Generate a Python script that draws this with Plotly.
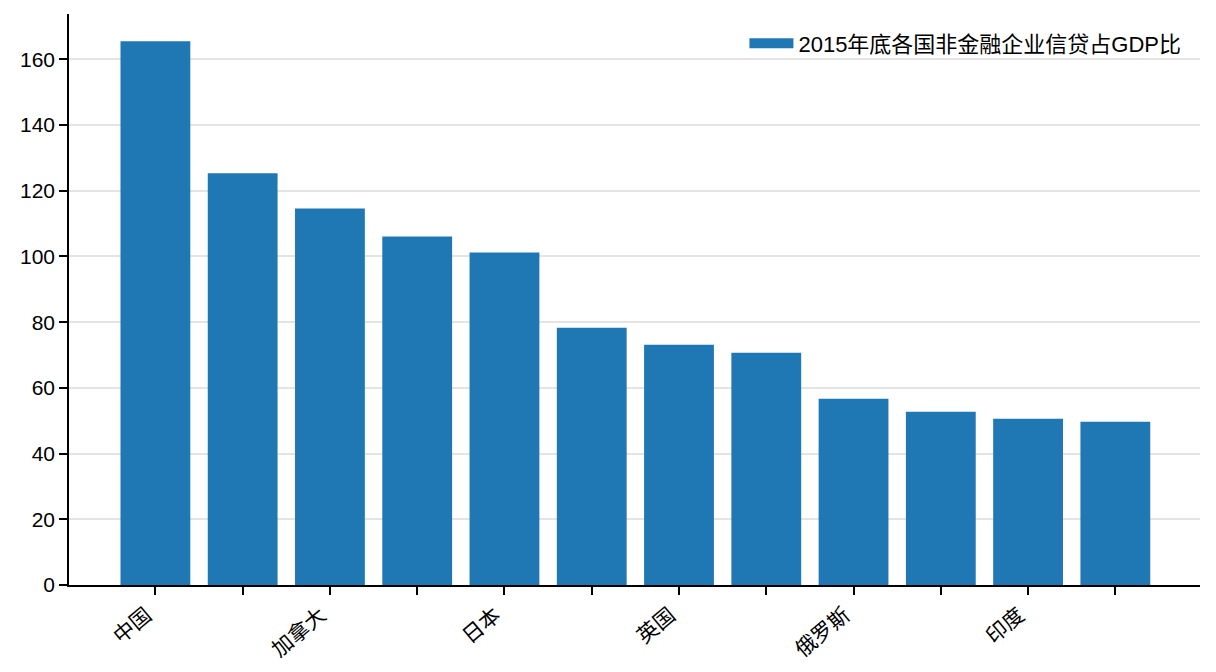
import plotly.graph_objects as go

# Data (only every other country is labelled on the axis)
positions = list(range(12))
labels = ["中国", "", "加拿大", "", "日本", "", "英国", "", "俄罗斯", "", "印度", ""]
credit_gdp = [165.5, 125.3, 114.6, 106.1, 101.2, 78.3, 73.1, 70.7, 56.7, 52.7, 50.6, 49.7]
series_name = "2015年底各国非金融企业信贷占GDP比"
y_ticks = [0, 20, 40, 60, 80, 100, 120, 140, 160]

font_family = "Liberation Sans, Arial, Noto Sans CJK SC, sans-serif"
bar_color = "#1f77b4"

fig = go.Figure()
fig.add_trace(go.Bar(x=positions, y=credit_gdp, name=series_name,
                     marker=dict(color=bar_color, line=dict(width=0)),
                     width=0.8, showlegend=False))
# legend-only entry so the swatch is a wide patch like matplotlib's
fig.add_trace(go.Scatter(x=[None], y=[None], mode="lines", name=series_name,
                         line=dict(color=bar_color, width=15), showlegend=True))

# page body has an 8px margin, so the figure is sized a bit smaller
fig.update_layout(
    width=1200, height=656,
    margin=dict(l=61, r=8, t=6, b=79),
    plot_bgcolor="white", paper_bgcolor="white",
    font=dict(family=font_family, size=21, color="black"),
    legend=dict(x=0.988, xanchor="right", y=0.985, yanchor="top", itemwidth=44,
                bgcolor="rgba(0,0,0,0)", font=dict(size=22)),
    showlegend=True,
)
fig.update_xaxes(
    range=[-0.99, 11.97], tickmode="array", tickvals=positions, ticktext=labels,
    tickangle=-40, ticks="outside", ticklen=8, tickwidth=1.5, tickcolor="black",
    ticklabelshift=-9, automargin=False,
    showline=True, linecolor="black", linewidth=1.5, showgrid=False, zeroline=False,
)
fig.update_yaxes(
    range=[0, 173.8], tickmode="array", tickvals=y_ticks,
    ticks="outside", ticklen=8, tickwidth=1.5, tickcolor="black", automargin=False,
    showline=True, linecolor="black", linewidth=1.5,
    showgrid=True, gridcolor="rgba(210,210,210,0.6)", gridwidth=1.5,
    zeroline=False, layer="above traces",
)

fig.write_html("out.html")
